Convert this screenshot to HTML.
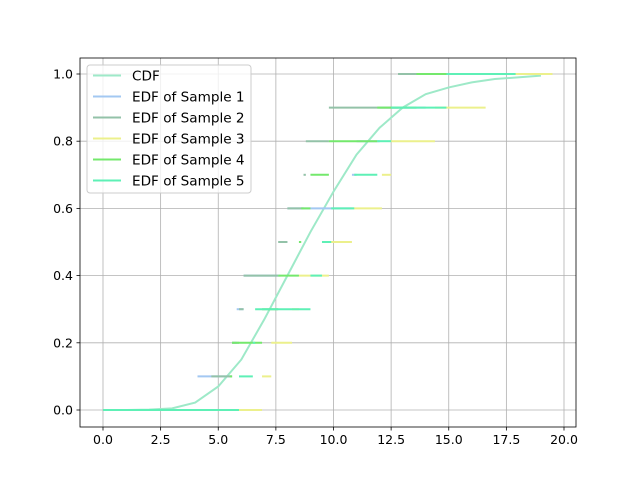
<!DOCTYPE html>
<html><head><meta charset="utf-8"><style>
body{margin:0;background:#fff}
svg text{font-family:"DejaVu Sans","Liberation Sans",sans-serif;font-size:12.5px;fill:#000}
svg #legend text{font-size:13.6px}
</style></head><body>
<svg id="chart" width="640" height="480" xmlns="http://www.w3.org/2000/svg">
<rect width="640" height="480" fill="#fff"/>
<g id="grid"></g>
<g id="series"></g>
<g id="axes"></g>
<g id="legend"></g>
</svg>
<script>
const xTicks=[0,2.5,5,7.5,10,12.5,15,17.5,20];
const yTicks=[0,0.2,0.4,0.6,0.8,1.0];
const cdfX=[0,1,2,3,4,5,6,7,8,9,10,11,12,13,14,15,16,17,18,19];
const cdfY=[0,0,0.001,0.005,0.022,0.07,0.15,0.27,0.4,0.53,0.65,0.76,0.84,0.9,0.94,0.96,0.975,0.985,0.99,0.995];
const sample1=[4.1,5.6,5.8,6.1,7.7,8.0,10.8,11.0,12.0,14.0];
const sample2=[4.7,5.6,5.9,6.1,7.6,8.0,8.7,8.8,9.8,12.8];
const sample3=[6.9,7.3,8.2,8.5,9.8,10.8,12.1,12.5,14.4,16.6];
const sample4=[5.5,5.6,6.9,7.6,8.5,8.6,9.0,9.8,11.9,13.6];
const sample5=[5.9,6.5,6.6,9.0,9.5,9.9,10.9,11.9,12.5,14.9];
const sampleEnds=[15,16,19.5,16,17.9];
const seriesNames=["CDF","EDF of Sample 1","EDF of Sample 2","EDF of Sample 3","EDF of Sample 4","EDF of Sample 5"];
const colors=["#9ee9c8","#a3c8f2","#93c2a8","#ecf08c","#74e86c","#5ef0b6"];

const L=80,R=576,T=58,B=427;
const X=v=>103+v*(564-103)/20;
const Y=v=>410-v*(410-74);
const NS="http://www.w3.org/2000/svg";
function mk(tag,attrs,parent){const e=document.createElementNS(NS,tag);for(const k in attrs)e.setAttribute(k,attrs[k]);parent.appendChild(e);return e;}
const grid=document.getElementById('grid'),axes=document.getElementById('axes'),ser=document.getElementById('series'),leg=document.getElementById('legend');
xTicks.forEach(t=>{
  const g=mk('line',{x1:X(t),x2:X(t),y1:T,y2:B,stroke:'#b0b0b0','stroke-width':0.8},grid);
  
  
  mk('line',{x1:X(t),x2:X(t),y1:B,y2:B+3.5,stroke:'#000','stroke-width':0.8},axes);
  const tx=mk('text',{x:X(t),y:B+17,'text-anchor':'middle'},axes);tx.textContent=t.toFixed(1);
  
  
});
yTicks.forEach(t=>{
  const g=mk('line',{x1:L,x2:R,y1:Y(t),y2:Y(t),stroke:'#b0b0b0','stroke-width':0.8},grid);
  
  
  mk('line',{x1:L-3.5,x2:L,y1:Y(t),y2:Y(t),stroke:'#000','stroke-width':0.8},axes);
  const tx=mk('text',{x:L-7,y:Y(t)+4.5,'text-anchor':'end'},axes);tx.textContent=t.toFixed(1);
  
  
});
const frame=mk('rect',{x:L,y:T,width:R-L,height:B-T,fill:'none',stroke:'#000','stroke-width':0.8},axes);


const cdf=mk('polyline',{points:cdfX.map((x,i)=>X(x)+','+Y(cdfY[i])).join(' '),fill:'none',stroke:colors[0],'stroke-width':2},ser);


[sample1,sample2,sample3,sample4,sample5].forEach((s,si)=>{
  const pts=[0].concat(s).concat([sampleEnds[si]]);
  const g=mk('g',{},ser);
  
  
  for(let k=0;k<=s.length;k++){
    const lv=k/s.length;
    const ln=mk('line',{x1:X(pts[k]),x2:X(pts[k+1]),y1:Y(lv),y2:Y(lv),stroke:colors[si+1],'stroke-width':2},g);
    
    
  }
});
const lb=mk('rect',{x:87,y:65,width:164,height:128,rx:3,fill:'#fff','fill-opacity':0.8,stroke:'#ccc','stroke-width':1},leg);


seriesNames.forEach((n,i)=>{
  const y=75.5+i*21;
  const g=mk('g',{},leg);
  
  
  mk('line',{x1:93,x2:121,y1:y,y2:y,stroke:colors[i],'stroke-width':2},g);
  const t=mk('text',{x:132,y:y+5},g);t.textContent=n;
});
</script>
</body></html>
